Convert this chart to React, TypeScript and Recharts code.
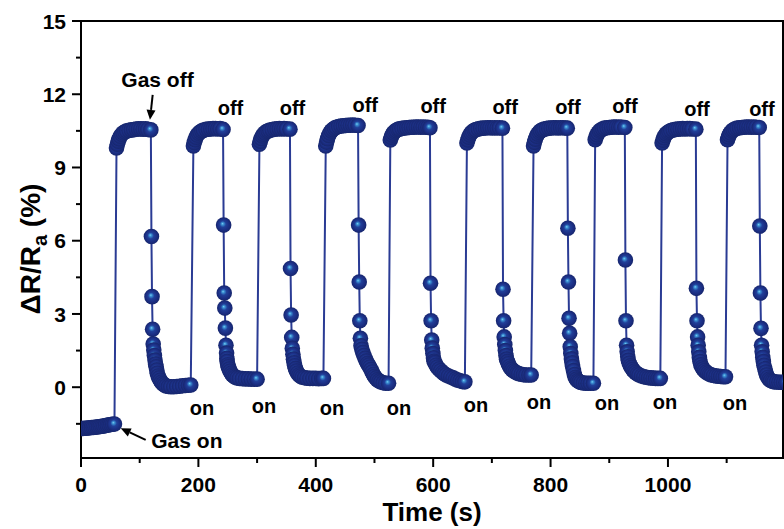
import { LineChart, Line, XAxis, YAxis, ReferenceArea, ReferenceDot, ReferenceLine } from 'recharts';

// baseline before the first exposure
const baseline: [number, number][] = [
  [0, -1.69], [3, -1.69], [6, -1.68], [9, -1.68], [12, -1.67], [15, -1.66], [18, -1.65], [21, -1.65],
  [24, -1.64], [27, -1.63], [30, -1.62], [33, -1.61], [36, -1.6], [39, -1.59], [42, -1.57], [45, -1.56],
  [48, -1.54], [51, -1.53], [54, -1.52], [57, -1.51],
];

const cycle1: [number, number][] = [
  [60.5, 9.8], [62, 9.95], [63.5, 10.08], [65, 10.18], [67, 10.28], [69.5, 10.36], [72, 10.42], [75, 10.46],
  [78, 10.5], [82, 10.52], [86, 10.54], [90, 10.55], [94, 10.57], [98, 10.58], [102, 10.58], [106, 10.57],
  [110, 10.58], [114, 10.56], [119, 10.54],
  [120, 6.17], [121, 3.71], [122, 2.37], [123, 1.77], [124, 1.52], [125, 1.3], [126, 1.11], [127, 0.95],
  [128, 0.84], [129, 0.7], [130, 0.57], [131.5, 0.46], [133, 0.37], [135, 0.28], [137, 0.2], [139.5, 0.14],
  [142, 0.09], [145, 0.05], [149, 0.03], [153, 0.02], [158, 0.02], [163, 0.03], [168, 0.04], [173, 0.06],
  [178, 0.07], [183, 0.08], [187, 0.09],
];

const cycle2: [number, number][] = [
  [191.5, 9.88], [193, 10.02], [194.5, 10.14], [196, 10.24], [198, 10.33], [200.5, 10.4], [203, 10.45],
  [206, 10.5], [209, 10.53], [213, 10.56], [217, 10.57], [221, 10.58], [225, 10.59], [229, 10.59],
  [233, 10.58], [237, 10.59], [242, 10.56],
  [243, 6.64], [244, 3.86], [245, 3.24], [246, 2.42], [247, 1.72], [248, 1.4], [248.5, 1.18], [249, 1.05],
  [250, 0.92], [251, 0.84], [252.5, 0.74], [254, 0.65], [256, 0.57], [258, 0.5], [260.5, 0.45], [263, 0.41],
  [266, 0.38], [270, 0.36], [275, 0.35], [280, 0.34], [285, 0.34], [290, 0.33], [295, 0.33], [300, 0.33],
];

const cycle3: [number, number][] = [
  [304, 9.95], [305.5, 10.08], [307, 10.19], [309, 10.29], [311, 10.36], [313.5, 10.42], [316, 10.47],
  [319, 10.5], [322, 10.53], [326, 10.55], [330, 10.57], [334, 10.58], [338, 10.59], [342, 10.58],
  [346, 10.59], [350, 10.58], [356, 10.57],
  [357, 4.86], [358, 2.96], [359, 2.04], [360, 1.59], [361, 1.35], [362, 1.15], [363, 1.0], [364, 0.88],
  [365.5, 0.76], [367, 0.66], [369, 0.57], [371.5, 0.5], [374, 0.45], [377, 0.41], [381, 0.39], [385, 0.37],
  [390, 0.36], [395, 0.36], [400, 0.36], [405, 0.35], [410, 0.36], [413, 0.36],
];

const cycle4: [number, number][] = [
  [417, 9.88], [418.5, 10.04], [420, 10.18], [422, 10.31], [424, 10.41], [426.5, 10.5], [429, 10.56],
  [432, 10.61], [435, 10.65], [439, 10.68], [443, 10.7], [447, 10.71], [451, 10.72], [455, 10.73],
  [459, 10.73], [463, 10.74], [467, 10.73], [472, 10.72],
  [473, 6.64], [474, 4.31], [475, 2.72], [476, 2.0], [477, 1.7], [478.5, 1.55], [480, 1.42], [482, 1.3],
  [484, 1.18], [486, 1.07], [488, 0.97], [490, 0.9], [492, 0.82], [494, 0.72], [496, 0.62], [498, 0.52],
  [500, 0.44], [502.5, 0.37], [505, 0.3], [508, 0.25], [511, 0.21], [515, 0.18], [519, 0.16], [524, 0.16],
];

const cycle5: [number, number][] = [
  [527, 10.13], [528.5, 10.24], [530, 10.33], [532, 10.41], [534.5, 10.47], [537, 10.52], [540, 10.56],
  [543, 10.58], [547, 10.6], [551, 10.62], [555, 10.63], [559, 10.64], [563, 10.65], [567, 10.65],
  [571, 10.66], [575, 10.66], [579, 10.65], [583, 10.66], [587, 10.65], [591, 10.65], [594.5, 10.63],
  [595.5, 4.26], [596.5, 2.72], [597.5, 1.93], [598.5, 1.6], [599.5, 1.38], [600.5, 1.2], [601.5, 1.06],
  [603, 1.0], [605, 0.9], [607, 0.82], [610, 0.74], [613, 0.67], [616, 0.6], [619, 0.55], [622, 0.5],
  [626, 0.46], [630, 0.42], [634, 0.38], [638, 0.33], [642, 0.29], [646, 0.26], [650, 0.23], [654, 0.22],
];

const cycle6: [number, number][] = [
  [657.5, 10.0], [659, 10.13], [660.5, 10.24], [662.5, 10.33], [664.5, 10.41], [667, 10.47], [670, 10.52],
  [673, 10.55], [677, 10.58], [681, 10.6], [685, 10.61], [689, 10.62], [693, 10.63], [697, 10.63],
  [701, 10.62], [705, 10.63], [709, 10.62], [713, 10.63], [718, 10.61],
  [719, 4.01], [720, 2.72], [721, 2.06], [722, 1.75], [723, 1.5], [724, 1.3], [725, 1.15], [726.5, 1.05],
  [728, 0.96], [730, 0.86], [732, 0.78], [734.5, 0.72], [737, 0.66], [740, 0.62], [743, 0.58], [746, 0.55],
  [750, 0.53], [754, 0.51], [758, 0.5], [763, 0.5], [767, 0.5],
];

const cycle7: [number, number][] = [
  [771, 9.88], [772.5, 10.03], [774, 10.16], [776, 10.28], [778, 10.37], [780.5, 10.44], [783, 10.5],
  [786, 10.54], [789, 10.57], [793, 10.59], [797, 10.61], [801, 10.62], [805, 10.63], [809, 10.63],
  [813, 10.62], [817, 10.63], [821, 10.63], [825, 10.62], [828.5, 10.61],
  [829.5, 6.51], [830.5, 4.31], [831.5, 2.82], [832.5, 2.21], [833.5, 1.66], [834.5, 1.38], [835.5, 1.16],
  [836.5, 1.0], [837.5, 0.85], [839, 0.68], [840.5, 0.52], [842, 0.4], [844, 0.32], [846.5, 0.26],
  [849, 0.22], [852, 0.19], [856, 0.17], [860, 0.16], [864, 0.16], [868, 0.16], [873, 0.16],
];

const cycle8: [number, number][] = [
  [876, 10.14], [877.5, 10.25], [879, 10.34], [881, 10.42], [883.5, 10.49], [886, 10.54], [889, 10.58],
  [892, 10.61], [896, 10.63], [900, 10.64], [904, 10.65], [908, 10.66], [912, 10.66], [916, 10.65],
  [920, 10.66], [926.5, 10.64],
  [927.5, 5.21], [928.5, 2.72], [929.5, 1.72], [930.5, 1.45], [931.5, 1.25], [932.5, 1.1], [934, 0.98],
  [936, 0.88], [938, 0.8], [940, 0.72], [942.5, 0.65], [945, 0.59], [948, 0.54], [951, 0.5], [955, 0.46],
  [959, 0.43], [963, 0.41], [967, 0.39], [971, 0.38], [975, 0.37], [979, 0.36], [983, 0.36], [987, 0.36],
];

const cycle9: [number, number][] = [
  [990, 10.0], [991.5, 10.12], [993, 10.22], [995, 10.31], [997, 10.38], [999.5, 10.43], [1002, 10.47],
  [1005, 10.51], [1009, 10.54], [1013, 10.56], [1017, 10.57], [1021, 10.58], [1025, 10.59], [1029, 10.58],
  [1033, 10.59], [1037, 10.59], [1041, 10.58], [1047.5, 10.57],
  [1048.5, 4.05], [1049.5, 2.72], [1050.5, 2.06], [1051.5, 1.72], [1052.5, 1.45], [1053.5, 1.22],
  [1054.5, 1.05], [1056, 0.92], [1058, 0.82], [1060, 0.74], [1062.5, 0.67], [1065, 0.61], [1068, 0.57],
  [1071, 0.53], [1074, 0.5], [1078, 0.48], [1082, 0.46], [1086, 0.45], [1090, 0.44], [1094, 0.43],
  [1098, 0.43],
];

const cycle10: [number, number][] = [
  [1101.5, 10.14], [1103, 10.25], [1104.5, 10.34], [1106.5, 10.42], [1109, 10.49], [1111.5, 10.54],
  [1114.5, 10.58], [1118, 10.61], [1122, 10.63], [1126, 10.64], [1130, 10.65], [1134, 10.66], [1138, 10.66],
  [1142, 10.65], [1146, 10.66], [1150, 10.65], [1155.5, 10.64],
  [1156.5, 6.6], [1157.5, 3.86], [1158.5, 2.41], [1159.5, 1.72], [1160.5, 1.45], [1161.5, 1.22],
  [1162.5, 1.05], [1163.5, 0.9], [1165, 0.76], [1166.5, 0.62], [1168, 0.5], [1170, 0.4], [1172.5, 0.32],
  [1175, 0.27], [1178, 0.24], [1181, 0.22], [1185, 0.21], [1189, 0.2], [1193, 0.2], [1197, 0.2], [1201, 0.2],
];

const X_TICKS = [0, 100, 200, 300, 400, 500, 600, 700, 800, 900, 1000, 1100];
const Y_TICKS = [-1.5, 0, 1.5, 3, 4.5, 6, 7.5, 9, 10.5, 12, 13.5, 15];

// annotation anchors in data units (text centre x, baseline y)
const offLabels: [number, number][] = [
  [254.7, 11.15], [360.3, 11.15], [484.2, 11.27], [600, 11.23], [722.7, 11.19],
  [829.6, 11.19], [926.7, 11.23], [1049.4, 11.11], [1160.1, 11.11],
];
const onLabels: [number, number][] = [
  [206.1, -1.15], [311.8, -1.07], [427.6, -1.15], [541.7, -1.15], [672.9, -1.03],
  [780.2, -0.91], [896.1, -0.95], [994.9, -0.91], [1114.1, -0.95],
];

const data = [baseline, cycle1, cycle2, cycle3, cycle4, cycle5, cycle6, cycle7, cycle8, cycle9, cycle10]
  .flat()
  .map(([t, v]) => ({ t, v }));

const FONT = '"Liberation Sans", Arial, sans-serif';
const NAVY = '#2a3b94';

const Ball = (props: any) => {
  const { cx, cy, index } = props;
  if (cx == null || cy == null) return <g key={index} />;
  return <circle key={index} cx={cx} cy={cy} r={7.8} fill="url(#ball)" clipPath="url(#plotClip)" />;
};

const YTick = (props: any) => {
  const { x, y, payload } = props;
  const major = payload.value % 3 === 0;
  return (
    <g>
      <line x1={x - (major ? 9 : 5)} x2={x} y1={y} y2={y} stroke="#000" strokeWidth={2} />
      {major && (
        <text x={x - 15} y={y} dy="0.36em" textAnchor="end" fontFamily={FONT} fontWeight="bold" fontSize={21} fill="#000">
          {payload.value}
        </text>
      )}
    </g>
  );
};

const XTick = (props: any) => {
  const { x, y, payload } = props;
  const major = payload.value % 200 === 0;
  return (
    <g>
      <line x1={x} x2={x} y1={y} y2={y + (major ? 9 : 5)} stroke="#000" strokeWidth={2} />
      {major && (
        <text x={x} y={y + 34} textAnchor="middle" fontFamily={FONT} fontWeight="bold" fontSize={21} fill="#000">
          {payload.value}
        </text>
      )}
    </g>
  );
};

const Word = (text: string, size: number) => (p: any) => (
  <text x={p.cx} y={p.cy} textAnchor="middle" fontFamily={FONT} fontWeight="bold" fontSize={size} fill="#000">
    {text}
  </text>
);

const Arrow = (p: any) => {
  const { x1, y1, x2, y2 } = p;
  const dx = x2 - x1;
  const dy = y2 - y1;
  const len = Math.sqrt(dx * dx + dy * dy) || 1;
  const ux = dx / len;
  const uy = dy / len;
  const bx = x2 - ux * 10;
  const by = y2 - uy * 10;
  return (
    <g>
      <line x1={x1} y1={y1} x2={bx} y2={by} stroke="#000" strokeWidth={2} />
      <polygon points={`${x2},${y2} ${bx - uy * 4.5},${by + ux * 4.5} ${bx + uy * 4.5},${by - ux * 4.5}`} fill="#000" />
    </g>
  );
};

const App = () => {
  return (
    <div style={{ position: 'absolute', left: 0, top: 0, background: '#fff' }}>
      <LineChart width={784} height={529} data={data} margin={{ top: 21, right: 1, bottom: 0, left: 0 }}>
        <defs>
          <radialGradient id="ball" cx="50%" cy="50%" r="50%" fx="42%" fy="40%">
            <stop offset="0%" stopColor="#7ccdf2" />
            <stop offset="16%" stopColor="#3a8fd2" />
            <stop offset="40%" stopColor="#213f99" />
            <stop offset="75%" stopColor="#1b2d82" />
            <stop offset="100%" stopColor="#16266c" />
          </radialGradient>
          <clipPath id="plotClip">
            <rect x={81} y={21} width={702} height={437} />
          </clipPath>
        </defs>
        <XAxis
          type="number"
          dataKey="t"
          domain={[0, 1196]}
          allowDataOverflow
          ticks={X_TICKS}
          interval={0}
          height={71}
          tickSize={0}
          tickMargin={0}
          tickLine={false}
          tick={<XTick />}
          axisLine={{ stroke: '#000', strokeWidth: 2 }}
          label={() => (
            <text x={432} y={521} textAnchor="middle" fontFamily={FONT} fontWeight="bold" fontSize={26} fill="#000">
              Time (s)
            </text>
          )}
        />
        <YAxis
          type="number"
          domain={[-2.9, 15]}
          allowDataOverflow
          ticks={Y_TICKS}
          interval={0}
          width={81}
          tickSize={0}
          tickMargin={0}
          tickLine={false}
          tick={<YTick />}
          axisLine={{ stroke: '#000', strokeWidth: 2 }}
          label={() => (
            <text x={40} y={249} transform="rotate(-90 40 249)" textAnchor="middle" fontFamily={FONT} fontWeight="bold" fontSize={28} fill="#000">
              ΔR/R<tspan dy={7} fontSize={20}>a</tspan><tspan dy={-7}> (%)</tspan>
            </text>
          )}
        />
        <ReferenceArea x1={0} x2={1196} y1={-2.9} y2={15} fill="none" stroke="#000" strokeWidth={2} ifOverflow="visible" />
        <Line
          type="linear"
          dataKey="v"
          stroke={NAVY}
          strokeWidth={2}
          dot={Ball}
          activeDot={false}
          isAnimationActive={false}
        />
        {offLabels.map(([t, v], i) => (
          <ReferenceDot key={`off${i}`} x={t} y={v} r={0} shape={Word('off', 20)} />
        ))}
        {onLabels.map(([t, v], i) => (
          <ReferenceDot key={`on${i}`} x={t} y={v} r={0} shape={Word('on', 20)} />
        ))}
        <ReferenceDot x={130.3} y={12.3} r={0} shape={Word('Gas off', 21)} />
        <ReferenceDot x={180.4} y={-2.49} r={0} shape={Word('Gas on', 21)} />
        <ReferenceLine segment={[{ x: 122.1, y: 11.97 }, { x: 117.5, y: 10.95 }]} shape={Arrow} />
        <ReferenceLine segment={[{ x: 110.2, y: -2.16 }, { x: 67.6, y: -1.68 }]} shape={Arrow} />
      </LineChart>
    </div>
  );
};

export default App;
